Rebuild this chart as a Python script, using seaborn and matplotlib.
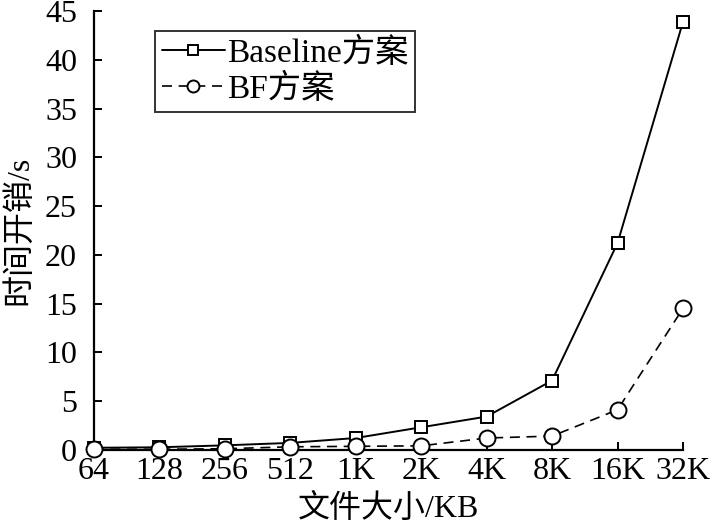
import numpy as np
import pandas as pd
import seaborn as sns
import matplotlib
matplotlib.use('Agg')
import matplotlib.pyplot as plt

# data
sizes = ['64', '128', '256', '512', '1K', '2K', '4K', '8K', '16K', '32K']
baseline = [0.2, 0.25, 0.45, 0.7, 1.2, 2.3, 3.4, 7.1, 21.2, 43.9]
bf = [0.05, 0.05, 0.1, 0.3, 0.35, 0.4, 1.2, 1.4, 4.1, 14.5]

df = pd.DataFrame({'size': sizes, 'Baseline方案': baseline, 'BF方案': bf})

sns.set_style('white')
plt.rcParams['font.family'] = ['Liberation Serif', 'Noto Sans CJK SC', 'DejaVu Sans']
plt.rcParams['axes.unicode_minus'] = False
plt.rcParams['text.color'] = 'black'
plt.rcParams['axes.labelcolor'] = 'black'

fig = plt.figure(figsize=(7.1, 5.26), dpi=100)
ax = fig.add_axes([0.132, 0.145, 0.83, 0.834])

sns.lineplot(data=df, x='size', y='Baseline方案', ax=ax, color='black', linewidth=1.4,
             marker='s', markersize=9, markerfacecolor='white', markeredgecolor='black',
             markeredgewidth=1.4, label='Baseline方案', clip_on=False, zorder=3)
sns.lineplot(data=df, x='size', y='BF方案', ax=ax, color='black', linewidth=1.2,
             linestyle=(0, (6, 4)), marker='o', markersize=11.5, markerfacecolor='white',
             markeredgecolor='black', markeredgewidth=1.4, label='BF方案', clip_on=False, zorder=4)

ax.set_xlim(0, len(sizes) - 1)
ax.set_ylim(0, 45)
ax.set_yticks(np.arange(0, 46, 5))

for s in ['top', 'right']:
    ax.spines[s].set_visible(False)
for s in ['left', 'bottom']:
    ax.spines[s].set_color('black')
    ax.spines[s].set_linewidth(1.6)

ax.tick_params(axis='both', direction='in', length=6, width=1.4, colors='black',
               labelcolor='black', labelsize=23, left=True, bottom=True)
ax.tick_params(axis='x', pad=5)
ax.tick_params(axis='y', pad=12)

ax.set_xlabel('文件大小/KB', fontsize=23, labelpad=6, color='black')
ax.set_ylabel('时间开销/s', fontsize=23, labelpad=8, color='black')

leg = ax.legend(loc='upper left', bbox_to_anchor=(0.104, 0.955), fontsize=24, frameon=True,
                fancybox=False, edgecolor='black', handlelength=1.9, handletextpad=0.05,
                borderpad=0.2, labelspacing=0.15, borderaxespad=0, markerscale=0.75)
leg.get_frame().set_linewidth(1.4)
for t in leg.get_texts():
    t.set_color('black')

fig.savefig('out.png', dpi=100)
